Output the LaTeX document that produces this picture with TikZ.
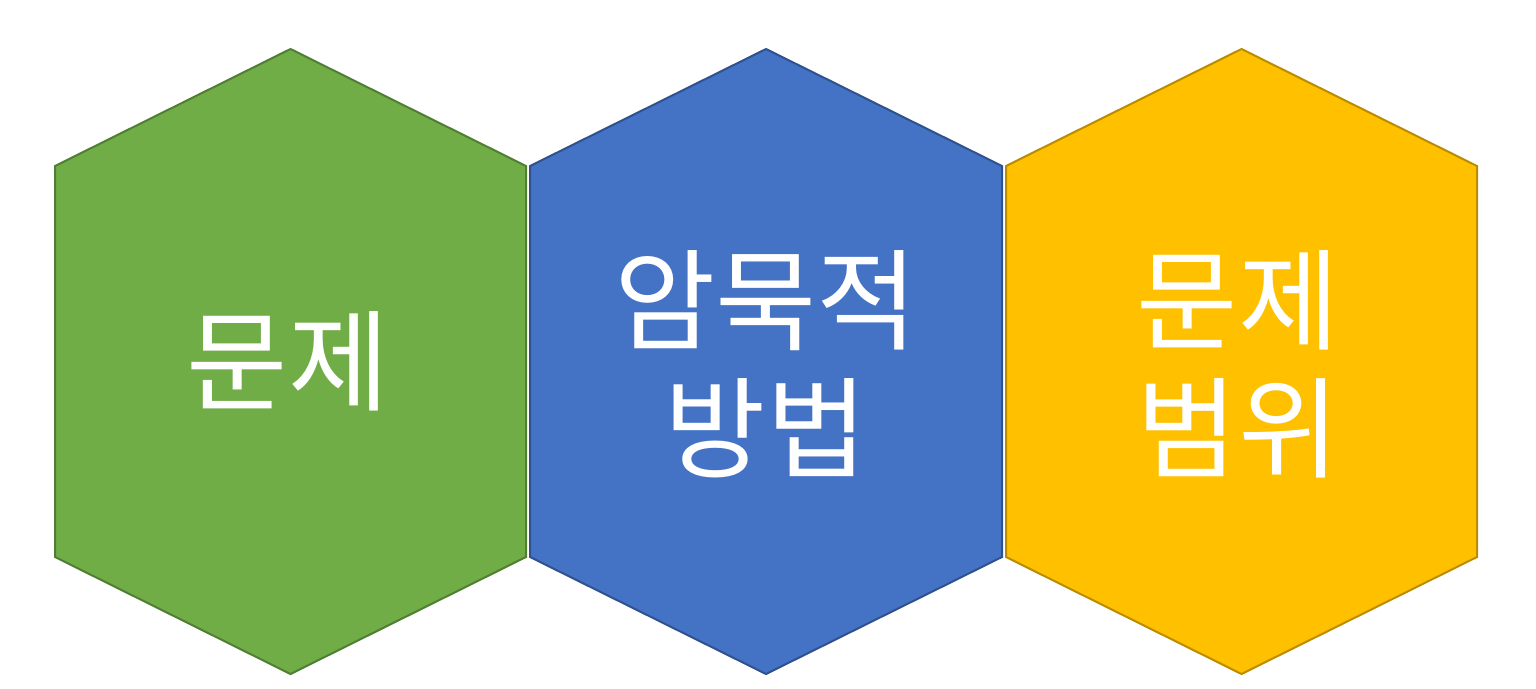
\documentclass[tikz,border=0pt]{standalone}
\usepackage{fontspec}
\newfontfamily\cjk{Noto Sans CJK KR}
\definecolor{hgreen}{HTML}{70AD47}
\definecolor{hgreenb}{HTML}{507E32}
\definecolor{hblue}{HTML}{4472C4}
\definecolor{hblueb}{HTML}{2F528F}
\definecolor{hyellow}{HTML}{FFC000}
\definecolor{hyellowb}{HTML}{BC8C00}
\tikzset{
  hexlbl/.style={text=white, font=\cjk\fontsize{110}{128}\selectfont, align=center, inner sep=0pt},
  hexborder/.style={line width=2pt, line join=miter}
}
\begin{document}
\begin{tikzpicture}[x=1pt,y=-1pt]
\useasboundingbox (0,0) rectangle (1536,688);
% green
\filldraw[hexborder, fill=hgreen, draw=hgreenb]
  (290.5,49) -- (526,166) -- (526,557) -- (290.5,674) -- (55,557) -- (55,166) -- cycle;
% blue
\filldraw[hexborder, fill=hblue, draw=hblueb]
  (766,49) -- (1002,166) -- (1002,557) -- (766,674) -- (530,557) -- (530,166) -- cycle;
% yellow
\filldraw[hexborder, fill=hyellow, draw=hyellowb]
  (1241.5,49) -- (1477,166) -- (1477,557) -- (1241.5,674) -- (1006,557) -- (1006,166) -- cycle;
\node[hexlbl] (t1) at (288,361) {문제};
\node[hexlbl] (t2) at (766,364) {암묵적\\방법};
\node[hexlbl] (t3) at (1238,364) {문제\\범위};
\end{tikzpicture}
\end{document}
